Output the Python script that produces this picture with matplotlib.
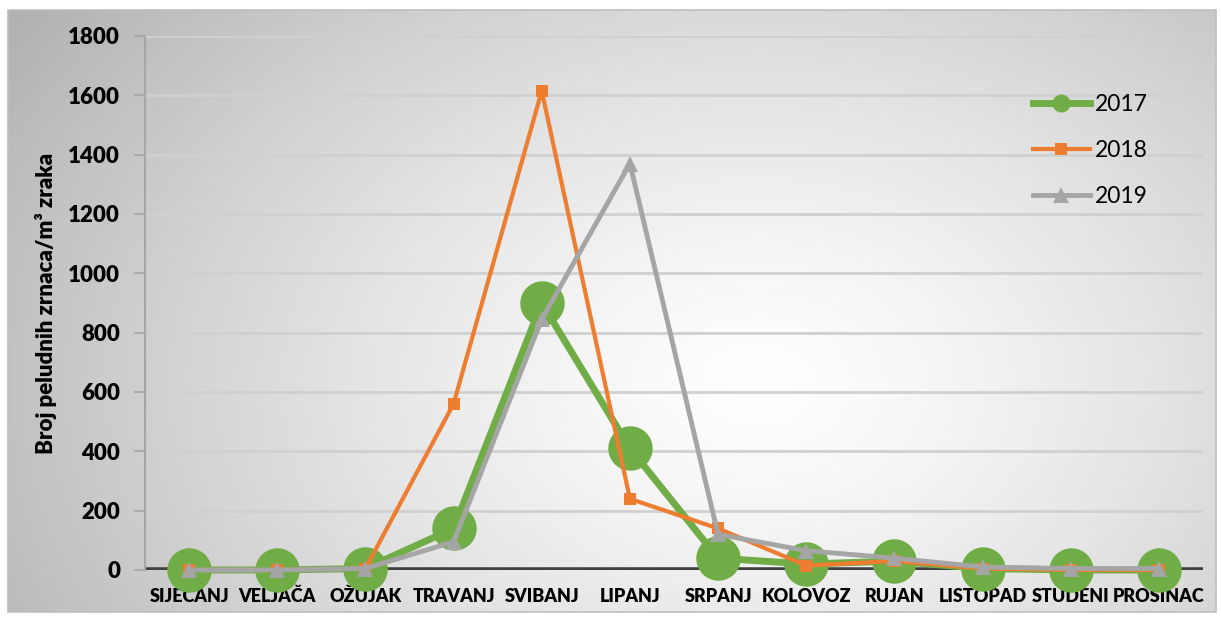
import numpy as np
import matplotlib.pyplot as plt
from matplotlib.patches import Rectangle

months = ["SIJEČANJ", "VELJAČA", "OŽUJAK", "TRAVANJ", "SVIBANJ", "LIPANJ",
          "SRPANJ", "KOLOVOZ", "RUJAN", "LISTOPAD", "STUDENI", "PROSINAC"]
y2017 = [0, 0, 5, 140, 900, 410, 40, 20, 30, 5, 0, 0]
y2018 = [0, 0, 5, 560, 1615, 240, 140, 15, 30, 5, 0, 0]
y2019 = [0, 0, 5, 95, 845, 1370, 120, 65, 40, 10, 5, 5]
yticks = [0, 200, 400, 600, 800, 1000, 1200, 1400, 1600, 1800]

plt.rcParams['font.family'] = ['Lato', 'DejaVu Sans']

fig = plt.figure(figsize=(12.21, 6.18), dpi=100)

# radial gradient background inside a gray frame
bx, by, bw, bh = 8 / 1221, 6 / 618, 1208 / 1221, 602 / 618
bg = fig.add_axes([bx, by, bw, bh], zorder=0)
h, w = 300, 600
yy, xx = np.mgrid[0:h, 0:w]
cx, cy = 0.62 * w, 0.62 * h
r = np.sqrt(((xx - cx) / (0.62 * w)) ** 2 + ((yy - cy) / (0.9 * h)) ** 2)
val = 1.0 - 0.24 * np.clip(r, 0, 1.3) ** 1.3
img = np.dstack([val, val, val])
bg.imshow(img, aspect='auto', extent=[0, 1, 0, 1], origin='upper')
bg.set_xlim(0, 1)
bg.set_ylim(0, 1)
bg.axis('off')
fig.patches.append(Rectangle((bx, by), bw, bh, transform=fig.transFigure,
                             fill=False, edgecolor='#bfbfbf', lw=1.2, zorder=1))

ax = fig.add_axes([145 / 1221, 1 - 570 / 618, 1058 / 1221, 534 / 618], zorder=2)
ax.patch.set_alpha(0)

x = np.arange(len(months))
ax.plot(x, y2017, color='#70AD47', lw=5, marker='o', markersize=32,
        markeredgewidth=0, label='2017', zorder=3, clip_on=False)
ax.plot(x, y2018, color='#ED7D31', lw=3, marker='s', markersize=9,
        markeredgewidth=0, label='2018', zorder=4, clip_on=False)
ax.plot(x, y2019, color='#A5A5A5', lw=3.5, marker='^', markersize=11,
        markeredgewidth=0, label='2019', zorder=5, clip_on=False)

ax.set_xlim(-0.5, len(months) - 0.5)
ax.set_ylim(0, 1800)
ax.set_yticks(yticks)
ax.set_yticklabels([str(v) for v in yticks], fontsize=16, fontweight='heavy')
ax.set_xticks(x)
ax.set_xticklabels(months, fontsize=13, fontweight='heavy')
ax.tick_params(axis='x', length=0, pad=13)
ax.tick_params(axis='y', length=8, width=1.2, color='#a6a6a6', direction='out', pad=10)
ax.yaxis.grid(True, color='#d0d0d0', lw=2)
ax.set_axisbelow(True)
ax.axhline(0, color='#404040', lw=4, zorder=2)
for s in ['top', 'right', 'bottom']:
    ax.spines[s].set_visible(False)
ax.spines['left'].set_color('#a6a6a6')
ax.spines['left'].set_linewidth(1.5)

ax.set_ylabel('Broj peludnih zrnaca/m³ zraka', fontsize=16, fontweight='heavy', labelpad=8)

leg = ax.legend(loc='upper right', bbox_to_anchor=(0.967, 0.93), frameon=False,
                fontsize=16.5, markerscale=1, handlelength=2.5, labelspacing=1.1,
                handletextpad=0.2)
leg.legend_handles[0].set_markersize(13)

fig.savefig('out.png', dpi=100)
